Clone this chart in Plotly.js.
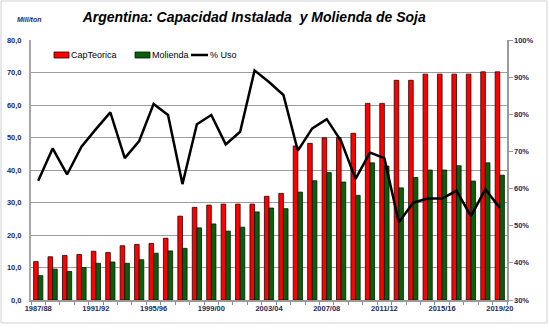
<!DOCTYPE html>
<html>
<head>
<meta charset="utf-8">
<script src="https://cdn.plot.ly/plotly-3.0.1.min.js"></script>
<style>
html,body{margin:0;padding:0;background:#fff;}
#chart{width:549px;height:329px;}
</style>
</head>
<body>
<div id="chart"></div>
<script>
var seasons = ["1987/88","1988/89","1989/90","1990/91","1991/92","1992/93","1993/94","1994/95","1995/96","1996/97","1997/98","1998/99","1999/00","2000/01","2001/02","2002/03","2003/04","2004/05","2005/06","2006/07","2007/08","2008/09","2009/10","2010/11","2011/12","2012/13","2013/14","2014/15","2015/16","2016/17","2017/18","2018/19","2019/20"];
var capTeorica = [11.8,13.3,13.7,14.0,15.0,14.6,16.7,17.1,17.4,19.0,25.8,28.5,29.2,29.5,29.5,29.5,31.9,32.8,47.4,48.2,49.9,50.0,51.3,60.5,60.5,67.6,67.6,69.5,69.5,69.5,69.5,70.2,70.2];
var molienda = [7.5,9.5,8.8,10.0,11.3,11.7,11.3,12.4,14.4,15.1,15.9,22.2,23.4,21.2,22.4,27.1,28.3,28.1,33.2,36.7,39.2,36.3,32.2,42.2,41.2,34.5,37.7,40.0,40.0,41.3,36.6,42.2,38.4];
var pctUso = [62.1,70.8,63.8,71.3,76.0,80.5,68.2,72.8,82.8,79.8,61.2,77.3,79.8,71.9,75.3,91.8,88.7,85.2,70.2,76.2,78.7,72.8,62.6,69.7,68.2,50.9,56.2,57.3,57.3,59.4,52.6,59.8,54.8];
var seriesNames = ["CapTeorica","Molienda","% Uso"];
var seriesColors = ["#ff0000","#0b5f0b","#000000"];
var labelEvery = 4;
var tickText = seasons.map(function(s,i){ return i % labelEvery === 0 ? s : ""; });

var tickColor = "#1c2a5c";
var tickFont = {family:"Liberation Sans, Arial, sans-serif", size:7.5, color:tickColor, weight:"bold"};

var traces = [
  {type:"bar", name:seriesNames[0], x:seasons, y:capTeorica,
   marker:{color:seriesColors[0], line:{color:"#2a0000", width:0.8}}},
  {type:"bar", name:seriesNames[1], x:seasons, y:molienda,
   marker:{color:seriesColors[1], line:{color:"#001a00", width:0.8}}},
  {type:"scatter", mode:"lines", name:seriesNames[2], x:seasons, y:pctUso, yaxis:"y2",
   line:{color:seriesColors[2], width:2.5}}
];

// plot area in pixels: left 31, right 507, top 40, bottom 300
function px(x){ return (x-31)/476; }
function py(y){ return (300-y)/260; }

var legendFont = {family:"Liberation Sans, Arial, sans-serif", size:9, color:"#000"};
var shapes = [
  {type:"rect", xref:"paper", yref:"paper", x0:px(1), x1:px(547), y0:py(323), y1:py(1),
   line:{color:"#d0d0d0", width:1}, fillcolor:"rgba(0,0,0,0)", layer:"below"},
  {type:"rect", xref:"paper", yref:"paper", x0:px(54), x1:px(69), y0:py(58), y1:py(52),
   line:{color:"#2a0000", width:0.8}, fillcolor:seriesColors[0], layer:"above"},
  {type:"rect", xref:"paper", yref:"paper", x0:px(135), x1:px(150), y0:py(58), y1:py(52),
   line:{color:"#001a00", width:0.8}, fillcolor:seriesColors[1], layer:"above"},
  {type:"line", xref:"paper", yref:"paper", x0:px(191), x1:px(208), y0:py(55), y1:py(55),
   line:{color:seriesColors[2], width:2.5}, layer:"above"}
];

var layout = {
  width:549, height:329,
  margin:{l:31, r:42, t:40, b:29},
  paper_bgcolor:"#ffffff", plot_bgcolor:"#ffffff",
  separators:",.",
  showlegend:false,
  barmode:"group", bargap:0.36, bargroupgap:0.0,
  font:{family:"Liberation Sans, Arial, sans-serif"},
  title:{text:"<b><i>Argentina: Capacidad Instalada  y Molienda de Soja</i></b>",
         font:{family:"Liberation Sans, Arial, sans-serif", size:14, color:"#000"},
         xref:"container", yref:"container", x:0.463, y:0.948, xanchor:"center", yanchor:"middle"},
  xaxis:{type:"category", tickvals:seasons, ticktext:tickText, tickson:"boundaries",
         ticks:"outside", ticklen:3, tickcolor:"#888", tickangle:0,
         showline:true, linecolor:"#9a9a9a", linewidth:1.5, showgrid:false,
         tickfont:tickFont, automargin:false},
  yaxis:{range:[0,80], dtick:10, tickformat:".1f", showgrid:true, gridcolor:"#9c9c9c", gridwidth:1,
         showline:true, linecolor:"#a8a8a8", linewidth:2, ticks:"", ticklabelstandoff:6,
         tickfont:tickFont, zeroline:false, automargin:false},
  yaxis2:{range:[30,100], dtick:10, ticksuffix:"%", overlaying:"y", side:"right",
          showgrid:false, showline:true, linecolor:"#9a9a9a", linewidth:1.5,
          ticks:"outside", ticklen:4, tickcolor:"#9a9a9a", tickfont:tickFont, zeroline:false, automargin:false},
  annotations:[
    {text:"<b><i>Mill/ton</i></b>", xref:"paper", yref:"paper", x:px(29), y:py(19),
     xanchor:"center", yanchor:"middle", showarrow:false,
     font:{family:"Liberation Sans, Arial, sans-serif", size:7, color:tickColor}},
    {text:seriesNames[0], xref:"paper", yref:"paper", x:px(69), y:py(55),
     xanchor:"left", yanchor:"middle", showarrow:false, font:legendFont},
    {text:seriesNames[1], xref:"paper", yref:"paper", x:px(150), y:py(55),
     xanchor:"left", yanchor:"middle", showarrow:false, font:legendFont},
    {text:seriesNames[2], xref:"paper", yref:"paper", x:px(208), y:py(55),
     xanchor:"left", yanchor:"middle", showarrow:false, font:legendFont}
  ],
  shapes:shapes
};

Plotly.newPlot("chart", traces, layout, {displayModeBar:false, staticPlot:true});
</script>
</body>
</html>
